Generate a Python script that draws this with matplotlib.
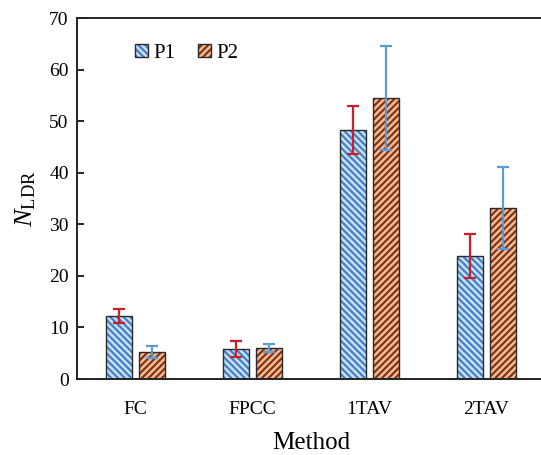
import matplotlib
matplotlib.use("Agg")
import matplotlib.pyplot as plt
import numpy as np

methods = ["FC", "FPCC", "1TAV", "2TAV"]
p1_values = [12.2, 5.8, 48.3, 23.8]
p1_errors = [1.4, 1.5, 4.7, 4.3]
p2_values = [5.2, 6.0, 54.5, 33.2]
p2_errors = [1.2, 0.8, 10.0, 8.0]
series_names = ["P1", "P2"]

plt.rcParams['font.family'] = ['Liberation Serif', 'DejaVu Serif']
plt.rcParams['mathtext.fontset'] = 'custom'
plt.rcParams['mathtext.rm'] = 'Liberation Serif'
plt.rcParams['mathtext.it'] = 'Liberation Serif:italic'
plt.rcParams['hatch.linewidth'] = 1.5

fig = plt.figure(figsize=(5.41, 4.55), dpi=100)
ax = fig.add_axes([77/541, 76/455, 468/541, 361/455])

x = np.arange(len(methods))
w = 0.23
off = 0.141

p1_fill, p1_hatch = '#c6ddf3', '#3d7cc4'
p2_fill, p2_hatch = '#f3b88e', '#7a3014'
edge = '#2a2a2a'

h1 = ax.bar(x - off, p1_values, w, color=p1_fill, edgecolor=p1_hatch, hatch='\\\\\\\\\\', linewidth=0, zorder=2)
o1 = ax.bar(x - off, p1_values, w, fill=False, edgecolor=edge, linewidth=1.0, zorder=3)
h2 = ax.bar(x + off, p2_values, w, color=p2_fill, edgecolor=p2_hatch, hatch='/////', linewidth=0, zorder=2)
o2 = ax.bar(x + off, p2_values, w, fill=False, edgecolor=edge, linewidth=1.0, zorder=3)

ax.errorbar(x - off, p1_values, yerr=p1_errors, fmt='none', ecolor='#c8202c', elinewidth=1.6, capsize=4.5, capthick=1.6, zorder=4)
ax.errorbar(x + off, p2_values, yerr=p2_errors, fmt='none', ecolor='#5b9bd5', elinewidth=1.6, capsize=4.5, capthick=1.6, zorder=4)

ax.set_xlim(-0.5, 3.5)
ax.set_ylim(0, 70)
ax.set_yticks(np.arange(0, 71, 10))
ax.set_xticks(x)
ax.set_xticklabels(methods, fontsize=14)
ax.tick_params(axis='y', direction='in', length=5, width=1.2, labelsize=14, pad=6)
ax.tick_params(axis='x', length=0, pad=16)
for s in ax.spines.values():
    s.set_linewidth(1.4)
    s.set_color('#222222')

ax.set_xlabel("Method", fontsize=18, labelpad=10)
ax.set_ylabel(r'$N_{\mathrm{LDR}}$', fontsize=19, labelpad=8)

leg = ax.legend([(h1[0], o1[0]), (h2[0], o2[0])], series_names, loc='upper left',
                bbox_to_anchor=(0.083, 0.98), ncol=2, frameon=False, fontsize=15,
                handlelength=0.62, handleheight=0.62, handletextpad=0.3, columnspacing=1.05)

fig.savefig("out.png", dpi=100)
